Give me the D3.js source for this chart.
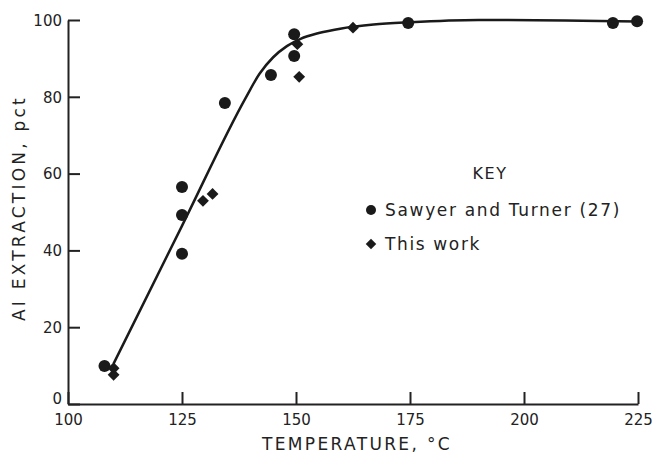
<!DOCTYPE html>
<html>
<head>
<meta charset="utf-8">
<script src="https://cdn.jsdelivr.net/npm/d3@7"></script>
<style>
  body { margin: 0; background: #fff; }
  text { font-family: "DejaVu Sans", sans-serif; fill: #222; }
</style>
</head>
<body>
<div id="chart"></div>
<script>
// Sawyer and Turner (27) - circles
var sawyerTemp = [108, 125, 125, 125, 134.4, 144.5, 149.6, 149.6, 174.6, 219.5, 224.8];
var sawyerPct  = [9.9, 56.5, 49.2, 39.1, 78.4, 85.7, 96.3, 90.6, 99.2, 99.2, 99.7];

// This work - diamonds
var thisTemp = [110, 110, 129.6, 131.7, 150.3, 150.7, 162.5];
var thisPct  = [9.3, 7.6, 52.9, 54.7, 93.7, 85.2, 98.0];

// fitted curve
var curveTemp = [110, 125, 139, 142, 145, 148, 151, 155, 160, 167, 175, 190, 225];
var curvePct  = [10.5, 46.4, 79.8, 86, 90.3, 93.2, 95.1, 96.6, 97.8, 98.8, 99.4, 100, 99.6];

var xTicks = [100, 125, 150, 175, 200, 225];
var yTicks = [0, 20, 40, 60, 80, 100];

var width = 655, height = 453;

var svg = d3.select('#chart').append('svg')
    .attr('width', width)
    .attr('height', height);

// scales
var x = d3.scaleLinear().domain([100, 225]).range([68, 638]);
var y = d3.scaleLinear().domain([0, 100]).range([404, 20]);

// stretch a text to a given width with letter spacing
function fitWidth(sel, w) {
    var n = sel.text().length;
    var natural = sel.node().getComputedTextLength();
    sel.style('letter-spacing', ((w - natural) / n) + 'px');
}

// x axis
var xAxis = svg.append('g')
    .attr('transform', 'translate(0,' + y(0) + ')')
    .call(d3.axisBottom(x).tickValues(xTicks).tickSizeInner(-12).tickSizeOuter(0).tickPadding(6));
xAxis.selectAll('text').style('font-size', '15px').attr('dy', '1.0em');

// y axis
var yAxis = svg.append('g')
    .attr('transform', 'translate(' + x(100) + ',0)')
    .call(d3.axisLeft(y).tickValues(yTicks).tickSizeInner(-12).tickSizeOuter(0).tickPadding(6));
yAxis.selectAll('text').style('font-size', '15px')
    .attr('dy', function (d) { return d === 0 ? '-0.05em' : '0.35em'; });

svg.selectAll('.domain, .tick line')
    .attr('stroke', '#222')
    .attr('stroke-width', 2);

// axis titles
var xTitle = svg.append('text')
    .attr('x', 357)
    .attr('y', 450)
    .attr('text-anchor', 'middle')
    .style('font-size', '17px')
    .text('TEMPERATURE, °C');
fitWidth(xTitle, 190);

var yTitle = svg.append('text')
    .attr('transform', 'translate(25,208) rotate(-90)')
    .attr('text-anchor', 'middle')
    .style('font-size', '17px')
    .text('AI EXTRACTION, pct');
fitWidth(yTitle, 226);

// fitted line
var line = d3.line()
    .x(function (d) { return x(d[0]); })
    .y(function (d) { return y(d[1]); })
    .curve(d3.curveMonotoneX);

svg.append('path')
    .datum(d3.zip(curveTemp, curvePct))
    .attr('d', line)
    .attr('fill', 'none')
    .attr('stroke', '#1a1a1a')
    .attr('stroke-width', 2.5);

// points
svg.selectAll('.sawyer')
    .data(d3.zip(sawyerTemp, sawyerPct))
    .enter()
    .append('circle')
    .attr('class', 'sawyer')
    .attr('cx', function (d) { return x(d[0]); })
    .attr('cy', function (d) { return y(d[1]); })
    .attr('r', 6)
    .attr('fill', '#1a1a1a');

var diamond = d3.symbol().type(d3.symbolSquare).size(70);

svg.selectAll('.thiswork')
    .data(d3.zip(thisTemp, thisPct))
    .enter()
    .append('path')
    .attr('class', 'thiswork')
    .attr('d', diamond)
    .attr('transform', function (d) {
        return 'translate(' + x(d[0]) + ',' + y(d[1]) + ') rotate(45)';
    })
    .attr('fill', '#1a1a1a');

// key
var key = svg.append('g');
key.append('text')
    .attr('x', 490)
    .attr('y', 179)
    .attr('text-anchor', 'middle')
    .style('font-size', '16px')
    .style('letter-spacing', '1.5px')
    .text('KEY');

key.append('circle')
    .attr('cx', 371)
    .attr('cy', 210)
    .attr('r', 5)
    .attr('fill', '#1a1a1a');
var t1 = key.append('text')
    .attr('x', 385)
    .attr('y', 216)
    .style('font-size', '17px')
    .text('Sawyer and Turner (27)');
fitWidth(t1, 236);

key.append('path')
    .attr('d', d3.symbol().type(d3.symbolSquare).size(55))
    .attr('transform', 'translate(371,244) rotate(45)')
    .attr('fill', '#1a1a1a');
var t2 = key.append('text')
    .attr('x', 385)
    .attr('y', 250)
    .style('font-size', '17px')
    .text('This work');
fitWidth(t2, 96);
</script>
</body>
</html>
